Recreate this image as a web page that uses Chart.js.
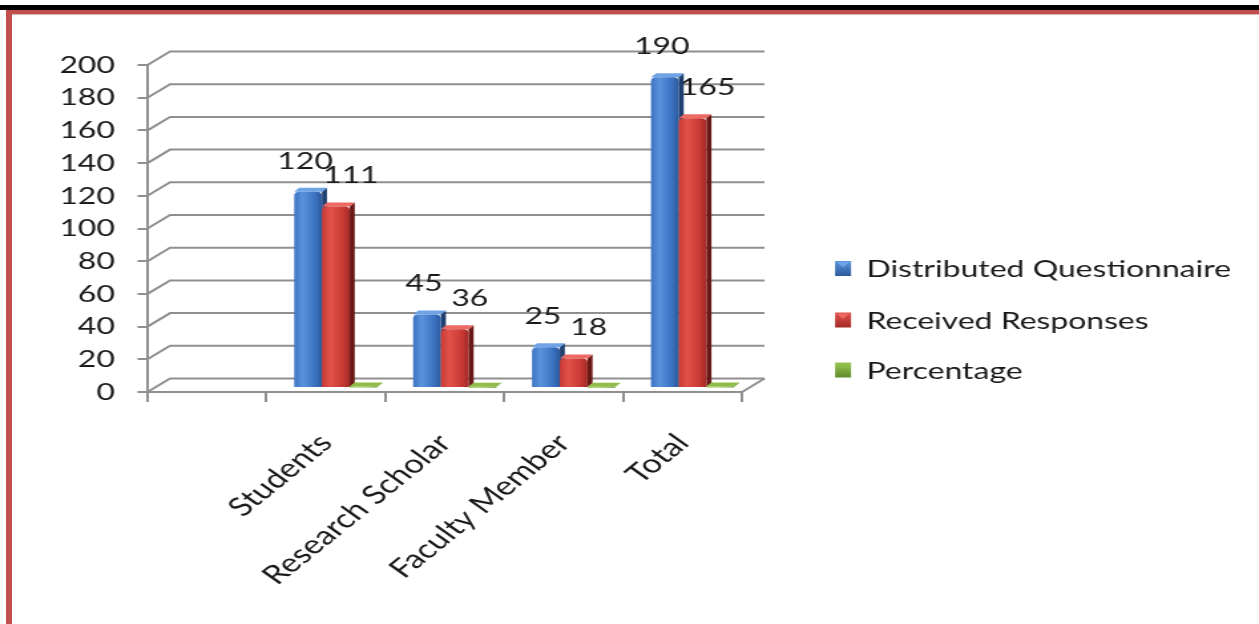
<!DOCTYPE html>
<html><head><meta charset="utf-8">
<script src="https://cdn.jsdelivr.net/npm/chart.js@4.4.1/dist/chart.umd.min.js"></script>
<style>
html,body{margin:0;padding:0;background:#fff;overflow:hidden;width:1259px;height:624px;}
#wrap{position:absolute;left:0;top:0;width:947px;height:624px;transform:scaleX(1.3295);transform-origin:0 0;}
.b{position:absolute;}
</style></head><body>
<div id="wrap"><canvas id="c" width="947" height="624"></canvas></div>
<div class="b" style="left:0;top:5px;width:1259px;height:5px;background:#000"></div>
<div class="b" style="left:6px;top:10px;width:1253px;height:4px;background:#c0504d"></div>
<div class="b" style="left:12px;top:14px;width:1247px;height:1px;background:#e8b3b1"></div>
<div class="b" style="left:6px;top:10px;width:6px;height:614px;background:#c0504d"></div>
<script>
const categories = ['', 'Students', 'Research Scholar', 'Faculty Member', 'Total'];
const distributed = [null, 120, 45, 25, 190];
const received = [null, 111, 36, 18, 165];
const percentage = [null, 0.925, 0.8, 0.72, 0.868];
const seriesNames = ['Distributed Questionnaire', 'Received Responses', 'Percentage'];
const yMin = 0, yMax = 200, yStep = 20;

const K = 1259 / 947;
const FONT = 'Lato, "Open Sans", sans-serif';
const FS = 24;
const FSX = 26;
const TXT = '#1a1a1a';
const GRID = '#8f8f8f';
const BACK_DX = 22.5 / K, BACK_DY = -13.5;
const FRONT_DX = 10 / K, FRONT_DY = -4;
const SIDE_DX = 5 / K, SIDE_DY = -4;
const palette = [
  {light:'#5a93dc', mid:'#3b73c2', dark:'#2c5a9c', side:'#1e3f70', top:'#6ea3e6', base:'#3b73c2'},
  {light:'#e2524b', mid:'#c93a34', dark:'#a22a26', side:'#6a1816', top:'#ec6a63', base:'#c93a34'},
  {light:'#9cc755', mid:'#7fae3c', dark:'#5f8a2a', side:'#4a6d1f', top:'#8fbd48', base:'#7fae3c'}
];

function poly(ctx, pts, fill) {
  ctx.beginPath();
  ctx.moveTo(pts[0][0], pts[0][1]);
  for (let i = 1; i < pts.length; i++) ctx.lineTo(pts[i][0], pts[i][1]);
  ctx.closePath();
  ctx.fillStyle = fill;
  ctx.fill();
}

const wall3d = {
  id: 'wall3d',
  beforeDatasetsDraw(chart) {
    const {ctx, chartArea: a, scales: {y}} = chart;
    ctx.save();
    ctx.strokeStyle = GRID;
    ctx.lineWidth = 2;
    y.ticks.forEach(t => {
      const py = y.getPixelForValue(t.value);
      ctx.beginPath();
      ctx.moveTo(a.left, py);
      ctx.lineTo(a.left + BACK_DX, py + BACK_DY);
      ctx.lineTo(a.right + BACK_DX, py + BACK_DY);
      ctx.stroke();
    });
    const p0 = y.getPixelForValue(0);
    ctx.beginPath();
    ctx.moveTo(a.right, p0);
    ctx.lineTo(a.right + BACK_DX, p0 + BACK_DY);
    ctx.stroke();
    ctx.restore();
  },
  beforeDatasetDraw() { return false; },
  afterDatasetsDraw(chart) {
    const {ctx} = chart;
    ctx.save();
    const n = chart.data.labels.length;
    for (let i = 0; i < n; i++) {
      for (let d = 0; d < chart.data.datasets.length; d++) {
        const v = chart.data.datasets[d].data[i];
        if (v === null || v === undefined) continue;
        const el = chart.getDatasetMeta(d).data[i];
        const p = palette[d];
        const w = el.width;
        const x1 = el.x - w / 2 + FRONT_DX, x2 = x1 + w;
        const yt = el.y + FRONT_DY, yb = el.base + FRONT_DY;
        poly(ctx, [[x2, yt], [x2 + SIDE_DX, yt + SIDE_DY], [x2 + SIDE_DX, yb + SIDE_DY], [x2, yb]], p.side);
        poly(ctx, [[x1, yt], [x1 + SIDE_DX, yt + SIDE_DY], [x2 + SIDE_DX, yt + SIDE_DY], [x2, yt]], p.top);
        const g = ctx.createLinearGradient(x1, 0, x2, 0);
        g.addColorStop(0, p.mid);
        g.addColorStop(0.3, p.light);
        g.addColorStop(0.75, p.mid);
        g.addColorStop(1, p.dark);
        ctx.fillStyle = g;
        ctx.beginPath();
        const h = yb - yt;
        const r = Math.min(4, h / 2);
        if (ctx.roundRect) ctx.roundRect(x1, yt, w, Math.max(h, 1), [r, r, 0, 0]);
        else ctx.rect(x1, yt, w, Math.max(h, 1));
        ctx.fill();
        if (d < 2) {
          ctx.fillStyle = TXT;
          ctx.font = FS + 'px ' + FONT;
          ctx.textAlign = 'center';
          ctx.textBaseline = 'middle';
          const cx = (x1 + x2) / 2 + (d === 0 ? -3 : 15) / K;
          ctx.fillText(String(v), cx, yt - 31);
        }
      }
    }
    ctx.restore();
  },
  afterDraw(chart) {
    const {ctx} = chart;
    ctx.save();
    const rows = [268.5, 320, 370];
    const sx = 835 / K, sw = 16 / K, sh = 15;
    const tx = 866.5 / K;
    ctx.font = FS + 'px ' + FONT;
    ctx.textAlign = 'left';
    ctx.textBaseline = 'middle';
    seriesNames.forEach((name, d) => {
      const cy = rows[d];
      const p = palette[d];
      const g = ctx.createLinearGradient(0, cy - sh / 2, 0, cy + sh / 2);
      g.addColorStop(0, p.light);
      g.addColorStop(1, p.dark);
      ctx.fillStyle = g;
      ctx.fillRect(sx, cy - sh / 2, sw, sh);
      poly(ctx, [[sx + 1, cy - sh / 2 + 1], [sx + sw - 1, cy - sh / 2 + 1], [sx + sw / 2, cy - 1]], p.top);
      ctx.fillStyle = TXT;
      ctx.fillText(name, tx, cy + 1);
    });
    ctx.restore();
  }
};

const chartLeft = 147.5 / K, chartRight = 742 / K, chartTop = 65, chartBottom = 392;

new Chart(document.getElementById('c'), {
  type: 'bar',
  data: {
    labels: categories,
    datasets: [
      {label: seriesNames[0], data: distributed, backgroundColor: palette[0].base},
      {label: seriesNames[1], data: received, backgroundColor: palette[1].base},
      {label: seriesNames[2], data: percentage, backgroundColor: palette[2].base}
    ]
  },
  options: {
    responsive: false,
    animation: false,
    devicePixelRatio: 1,
    layout: {padding: {left: 0, top: chartTop, right: 947 - chartRight, bottom: 0}},
    datasets: {bar: {categoryPercentage: 0.70, barPercentage: 1}},
    plugins: {legend: {display: false}, tooltip: {enabled: false}, title: {display: false}},
    scales: {
      x: {
        grid: {display: true, drawOnChartArea: false, drawTicks: true, tickLength: 10, color: GRID, lineWidth: 2, offset: true},
        border: {display: true, color: GRID, width: 2},
        ticks: {autoSkip: false, minRotation: 47, maxRotation: 47, padding: 26, color: TXT, font: {family: FONT, size: FSX}},
        afterFit(s) { s.height = 624 - chartBottom; }
      },
      y: {
        min: yMin, max: yMax,
        grid: {display: true, drawOnChartArea: false, drawTicks: true, tickLength: 10 / K, color: GRID, lineWidth: 2},
        border: {display: true, color: GRID, width: 2},
        ticks: {stepSize: yStep, padding: 17, color: TXT, font: {family: FONT, size: FS}},
        afterFit(s) { s.width = chartLeft; }
      }
    }
  },
  plugins: [wall3d]
});
</script>
</body></html>
